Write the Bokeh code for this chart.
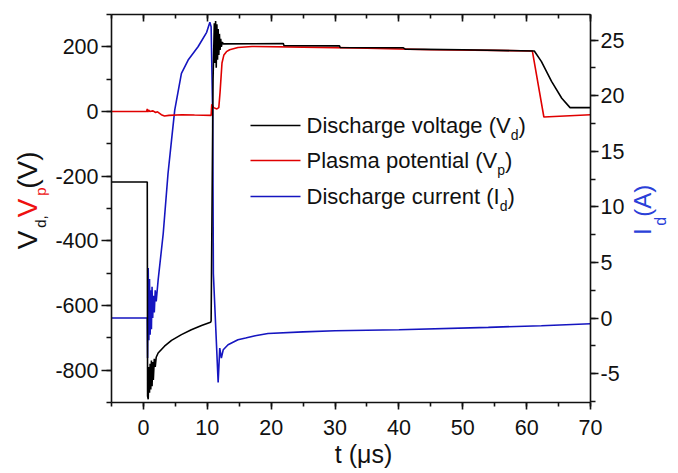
from bokeh.plotting import figure
from bokeh.layouts import row
from bokeh.models import (Range1d, LinearAxis, SingleIntervalTicker, Label, Arrow, Title,
                          CustomJSTickFormatter)
from bokeh.embed import file_html
from bokeh.resources import INLINE

# ---------------- data ----------------
t_vd = [-5, 0.6, 0.65, 0.75, 0.85, 0.95, 1.05, 1.15, 1.25, 1.35, 1.45, 1.55, 1.7, 1.85, 2.0,
        2.3, 3.3, 4.4, 5.95, 7.5, 9.1, 10.5, 10.6, 10.7, 10.9, 11.1, 11.2, 11.3, 11.4, 11.5,
        11.6, 11.7, 11.8, 11.9, 12.0, 12.1, 12.2, 12.35, 12.5, 21.9, 22.0, 30.7, 30.8, 40.7,
        41.0, 50.0, 61.2, 62.3, 63.9, 65.5, 66.8, 70]
vd = [-218, -218, -880, -890, -790, -870, -780, -860, -770, -850, -775, -830, -765, -790, -760,
      -747, -726, -708, -690, -675, -662, -652, -648, -400, 100, 273, 150, 280, 135, 270,
      160, 255, 175, 240, 190, 225, 200, 215, 209, 210, 204, 203, 198, 197,
      193, 191, 187, 155, 93, 41, 12, 12]

t_vp = [-5, 0.5, 0.6, 0.7, 0.8, 1.0, 1.5, 1.9, 2.2, 2.8, 3.3, 4.0, 6.0, 8.0, 10.6, 10.7,
        11.0, 11.5, 11.8, 12.0, 12.3, 12.6, 13.0, 13.5, 14.8, 17.0, 25.0, 35.0, 45.0, 55.0,
        60.9, 62.7, 70]
vp = [0, 0, 8, -2, 5, 0, 2, -3, -1, -10, -14, -12, -10, -11, -12, 22,
      12, 8, 12, 60, 150, 175, 185, 191, 198, 201, 199, 196, 191, 189,
      187, -17, -10]

t_id = [-5, 0.6, 0.65, 0.75, 0.85, 0.95, 1.05, 1.15, 1.25, 1.35, 1.45, 1.55, 1.7, 1.85, 2.0,
        2.3, 3.1, 3.85, 4.4, 4.9, 5.95, 7.0, 8.55, 9.9, 10.4, 10.6, 10.85, 10.95, 11.7, 11.95,
        12.2, 12.5, 13.25, 14.8, 16.0, 17.5, 19.5, 25.0, 30.0, 40.0, 54.0, 62.3, 70]
i_d = [0, 0, -3.6, 4.5, -2.0, 3.5, -1.5, 2.5, -1.0, 2.8, 0.0, 2.0, 0.5, 2.5, 1.5,
       3.4, 7.6, 13.0, 16.0, 18.7, 22.0, 23.2, 24.4, 25.7, 26.6, 26.2, 18.0, 4.0, -5.8, -2.7,
       -3.6, -2.85, -2.4, -1.95, -1.8, -1.6, -1.4, -1.25, -1.15, -1.05, -0.84, -0.69, -0.51]

x_lim = (-5, 70)
v_lim = (-900, 300)
i_lim = (-7.6, 27.3)

legend_labels = [("Discharge voltage (V", "d", ")"),
                 ("Plasma potential (V", "p", ")"),
                 ("Discharge current (I", "d", ")")]
x_title = "t (μs)"

BLACK = "#000000"
TXT = "#111111"
RED = "#e00000"
BLUE = "#1515c0"
LBL_RED = "#ee1111"
LBL_BLUE = "#2a40d8"
FONT = "Liberation Sans"
TICK_FS = "21.5px"
MID = 0.36    # offset of the cap-middle above the baseline, in em
ROT_K = 0.58  # along-text correction for rotated labels, in em

# page geometry (pixels from page top-left)
PW, PH = 678, 473
LW, RW = 52, 52                       # side text strips
FL, FT, FR, FB = 110, 14, 589, 402    # plot frame

# ---------------- text width helper ----------------
W = {' ': .278, ',': .278, '(': .333, ')': .333, 'V': .667, 'I': .278, 'A': .667, 'D': .722,
     'P': .667, 'a': .556, 'c': .5, 'd': .556, 'e': .556, 'g': .556, 'h': .556, 'i': .222,
     'l': .222, 'm': .833, 'n': .556, 'o': .556, 'p': .556, 'r': .333, 's': .5, 't': .278,
     'u': .556, 'v': .5, 'μ': .576}


def tw(s, size):
    return sum(W.get(c, .556) for c in s) * size


# ---------------- main figure ----------------
p = figure(frame_width=FR - FL, frame_height=FB - FT,
           min_border_left=FL - LW, min_border_right=PW - RW - FR,
           min_border_top=FT, min_border_bottom=PH - FB,
           x_range=Range1d(*x_lim), y_range=Range1d(*v_lim),
           output_backend="svg", toolbar_location=None)
p.extra_y_ranges = {"I": Range1d(*i_lim)}
p.xgrid.visible = False
p.ygrid.visible = False
p.outline_line_color = None
p.background_fill_color = "white"
p.border_fill_color = "white"

fmt = CustomJSTickFormatter(code="return tick.toString();")


def style_axis(ax, tick_out, minor_out, tick_in=0, minor_in=0, standoff=3):
    ax.axis_line_width = 1.6
    ax.axis_line_color = TXT
    ax.major_tick_line_width = 1.6
    ax.minor_tick_line_width = 1.6
    ax.major_tick_line_color = TXT
    ax.minor_tick_line_color = TXT
    ax.major_tick_out = tick_out
    ax.minor_tick_out = minor_out
    ax.major_tick_in = tick_in
    ax.minor_tick_in = minor_in
    ax.major_label_text_font = FONT
    ax.major_label_text_font_size = TICK_FS
    ax.major_label_text_color = TXT
    ax.major_label_standoff = standoff
    ax.formatter = fmt


bottom = p.xaxis[0]
bottom.ticker = SingleIntervalTicker(interval=10, num_minor_ticks=2)
style_axis(bottom, 7, 4, standoff=10)

left = p.yaxis[0]
left.ticker = SingleIntervalTicker(interval=200, num_minor_ticks=2)
style_axis(left, 10, 5, standoff=3)

right = LinearAxis(y_range_name="I", ticker=SingleIntervalTicker(interval=5, num_minor_ticks=2))
style_axis(right, 8, 5, standoff=2)
p.add_layout(right, "right")

top = LinearAxis(ticker=SingleIntervalTicker(interval=10, num_minor_ticks=2))
style_axis(top, 0, 0, tick_in=7, minor_in=4, standoff=0)
top.major_label_text_font_size = "0px"
p.add_layout(top, "above")

XT_FS = 25
p.add_layout(Title(text=x_title, align="left", offset=362 - tw(x_title, XT_FS) / 2 - FL,
                   standoff=0, text_font=FONT, text_font_size=f"{XT_FS}px",
                   text_font_style="normal", text_color=TXT), "below")

p.line(t_id, i_d, y_range_name="I", line_color=BLUE, line_width=1.6)
p.line(t_vp, vp, line_color=RED, line_width=1.6)
p.line(t_vd, vd, line_color=BLACK, line_width=1.6)


# ---------------- rich text ----------------
def rich(fig, pieces, bx, by, ox, oy, rotated=False, screen=False):
    """pieces: (text, size, color, baseline shift); bx, by: page coords of baseline start;
    ox, oy: page coords of the origin used by the target."""
    pos = 0.0
    for text, size, color, shift in pieces:
        lead = len(text) - len(text.lstrip(" "))
        pos += tw(" " * lead, size)          # leading spaces collapse in SVG text
        text = text.lstrip(" ")
        if rotated:
            px = bx + shift - MID * size
            py = by - pos + ROT_K * size
            ang = 90
        else:
            px = bx + pos
            py = by + shift - MID * size
            ang = 0
        if screen:
            x, y = px - ox, oy - py
        else:
            x, y = px - ox, py - oy
        fig.add_layout(Label(x=x, y=y, x_units="screen" if screen else "data",
                             y_units="screen" if screen else "data", text=text,
                             angle=ang, angle_units="deg", text_font=FONT,
                             text_font_size=f"{size}px", text_color=color,
                             text_baseline="middle", text_align="left"))
        pos += tw(text, size)


def text_fig(w, h):
    f = figure(width=w, height=h, min_border=0, x_range=Range1d(0, w), y_range=Range1d(h, 0),
               x_axis_type=None, y_axis_type=None, output_backend="svg", toolbar_location=None)
    f.outline_line_color = None
    f.background_fill_color = "white"
    f.border_fill_color = "white"
    f.xgrid.visible = False
    f.ygrid.visible = False
    return f


# legend (inside frame, screen units relative to the frame's bottom-left)
leg_colors = [BLACK, RED, BLUE]
leg_base = [133, 168, 204]
for (a, sub, b), col, sy in zip(legend_labels, leg_colors, leg_base):
    p.add_layout(Arrow(end=None, start=None, x_start=249 - FL, x_end=299 - FL,
                       y_start=FB - (sy - 8), y_end=FB - (sy - 8),
                       start_units="screen", end_units="screen",
                       line_color=col, line_width=1.6))
    rich(p, [(a, 22, TXT, 0), (sub, 14, TXT, 7), (b, 22, TXT, 0)], 305, sy, FL, FB, screen=True)

# left title strip
lf = text_fig(LW, PH)
rich(lf, [("V", 28, TXT, 0), ("d,", 15, TXT, 8), (" V", 28, LBL_RED, 0),
          ("p", 15, LBL_RED, 8), (" (V)", 28, TXT, 0)], 37, 270, 0, 0, rotated=True)

# right title strip
rf = text_fig(RW, PH)
rich(rf, [("I", 24, LBL_BLUE, 0), ("d", 16, LBL_BLUE, 15), (" (A)", 24, LBL_BLUE, 0)],
     650, 255, PW - RW, 0, rotated=True)

layout = row(lf, p, rf, spacing=0)
open("out.html", "w").write(file_html(layout, INLINE))
